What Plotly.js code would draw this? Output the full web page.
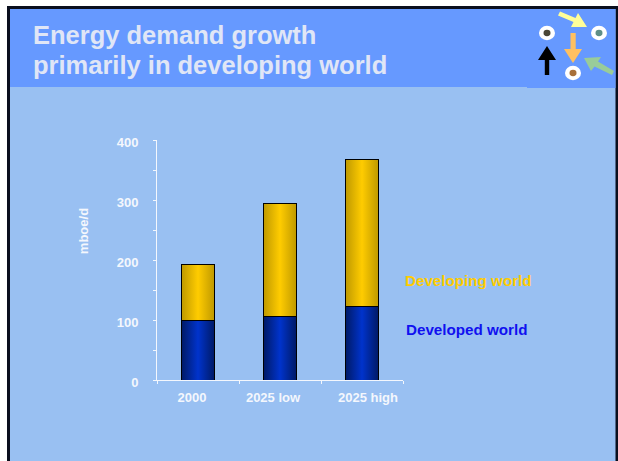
<!DOCTYPE html>
<html>
<head>
<meta charset="utf-8">
<script src="https://cdn.plot.ly/plotly-3.0.1.min.js"></script>
<style>html,body{margin:0;padding:0;background:#fff;overflow:hidden}#chart{width:618px;height:461px}</style>
</head>
<body>
<div id="chart"></div>
<script>
const categories = ['2000', '2025 low', '2025 high'];
const developedWorld = [100, 106, 123];
const developingWorld = [92, 188, 245];
const yTickValues = [0, 100, 200, 300, 400];
const titleLines = ['Energy demand growth', 'primarily in developing world'];
const xLabelOffsets = [-6, -7, 6];

const W = 618, H = 461;
const M = {l: 157, r: 215, t: 140, b: 81};
const PW = W - M.l - M.r, PH = H - M.t - M.b;
const px = x => (x - M.l) / PW;
const py = y => 1 - (y - M.t) / PH;
const paperRect = (x0, y0, x1, y1, color) => ({
  type: 'rect', xref: 'paper', yref: 'paper', layer: 'below',
  x0: px(x0), x1: px(x1), y0: py(y0), y1: py(y1),
  fillcolor: color, line: {width: 0}
});
const poly = (pts, color) => ({
  type: 'path', xref: 'paper', yref: 'paper', layer: 'below',
  path: 'M' + pts.map(p => px(p[0]) + ',' + py(p[1])).join('L') + 'Z',
  fillcolor: color, line: {width: 0}
});
const disc = (cx, cy, r, color) => ({
  type: 'circle', xref: 'paper', yref: 'paper', layer: 'below',
  x0: px(cx - r), x1: px(cx + r), y0: py(cy - r * 0.9), y1: py(cy + r * 0.9),
  fillcolor: color, line: {width: 0}
});

const shapes = [
  paperRect(7, 6, 618, 461, '#0a0f1e'),
  paperRect(10, 9, 615.5, 461, '#99C0F2'),
  paperRect(10, 9, 615.5, 87, '#6699FF'),
  paperRect(527, 87, 615.5, 88, '#6699FF'),
  disc(547, 33, 8, '#ffffff'), disc(547, 33, 3.5, '#4a4636'),
  disc(599, 33, 8, '#ffffff'), disc(599, 33, 3.5, '#5f8f88'),
  disc(573, 73, 8, '#ffffff'), disc(573, 73, 3.5, '#a8703a'),
  poly([[547,46],[556,60],[549.2,60],[549.2,75],[544.8,75],[544.8,60],[538,60]], '#000000'),
  poly([[570.5,33],[575.7,33],[575.7,49],[582,49],[573,63],[564,49],[570.5,49]], '#FFC060'),
  poly([[560,11.5],[575.5,18],[578,13],[587,27],[571,27],[573.5,22],[558,15.5]], '#FFFF99'),
  poly([[614,71],[598,61.5],[601,57],[584,58],[591,71],[594.5,66.5],[612,75]], '#99CC99')
];

const annotations = [
  {text: titleLines[0], x: px(31), y: py(35.5)},
  {text: titleLines[1], x: px(31), y: py(64.5)}
].map(a => Object.assign(a, {
  xref: 'paper', yref: 'paper', xanchor: 'left', yanchor: 'middle', showarrow: false,
  font: {family: 'Liberation Sans', size: 25.5, color: '#E0E6F6', weight: 700}
})).concat([
  {text: 'Developing world', x: px(403), y: py(280), xref: 'paper', yref: 'paper', xanchor: 'left', yanchor: 'middle', showarrow: false,
   font: {family: 'Liberation Sans', size: 15.2, color: '#FFCC00', weight: 700}},
  {text: 'Developed world', x: px(404), y: py(329), xref: 'paper', yref: 'paper', xanchor: 'left', yanchor: 'middle', showarrow: false,
   font: {family: 'Liberation Sans', size: 15.2, color: '#1010F0', weight: 700}}
]);

const tickFont = {family: 'Liberation Sans', size: 13, color: '#F4F7FD', weight: 700};
const traces = [
  {type: 'bar', name: 'Developed world', x: categories, y: developedWorld, width: 0.4,
   marker: {color: '#0033CC', line: {color: '#000000', width: 1}}},
  {type: 'bar', name: 'Developing world', x: categories, y: developingWorld, width: 0.4,
   marker: {color: '#FFCC00', line: {color: '#000000', width: 1}}}
];
const layout = {
  width: W, height: H, margin: M, barmode: 'stack', showlegend: false,
  paper_bgcolor: '#ffffff', plot_bgcolor: 'rgba(0,0,0,0)',
  shapes, annotations,
  xaxis: {type: 'category', categoryorder: 'array', categoryarray: categories,
    tickson: 'boundaries', ticks: 'outside', ticklen: 3, tickwidth: 1, tickcolor: '#F4F7FD',
    showline: true, linecolor: '#F4F7FD', linewidth: 1, showgrid: false, zeroline: false,
    tickfont: tickFont, ticklabelstandoff: 5},
  yaxis: {range: [0, 400], tickmode: 'array', tickvals: yTickValues, ticks: 'outside', ticklen: 3, tickwidth: 1,
    tickcolor: '#F4F7FD', showline: true, linecolor: '#F4F7FD', linewidth: 1, showgrid: false, zeroline: false,
    minor: {dtick: 50, ticks: 'outside', ticklen: 3, tickwidth: 1, tickcolor: '#F4F7FD', showgrid: false},
    tickfont: tickFont, ticklabelstandoff: 12, ticklabelshift: 2,
    title: {text: 'mboe/d', standoff: 25, font: {family: 'Liberation Sans', size: 13, color: '#F4F7FD', weight: 700}}}
};

Plotly.newPlot('chart', traces, layout, {displayModeBar: false, staticPlot: true}).then(() => {
  const svg = document.querySelector('#chart svg.main-svg');
  const ns = 'http://www.w3.org/2000/svg';
  const defs = svg.querySelector('defs');
  const mk = (id, edge, mid) => {
    const g = document.createElementNS(ns, 'linearGradient');
    g.setAttribute('id', id);
    [[0, edge], [0.5, mid], [1, edge]].forEach(([o, c]) => {
      const s = document.createElementNS(ns, 'stop');
      s.setAttribute('offset', o); s.setAttribute('stop-color', c);
      g.appendChild(s);
    });
    defs.appendChild(g);
  };
  mk('gradBlue', '#001A66', '#0033CC');
  mk('gradGold', '#BF9900', '#FFCC00');
  document.querySelectorAll('#chart .trace.bars').forEach((t, i) => {
    t.querySelectorAll('.point path').forEach(p => {
      p.style.fill = 'url(#' + (i === 0 ? 'gradBlue' : 'gradGold') + ')';
    });
  });
  document.querySelectorAll('#chart .xtick text').forEach((t, i) => {
    t.setAttribute('x', parseFloat(t.getAttribute('x')) + xLabelOffsets[i]);
  });
  const yt = document.querySelector('#chart .ytitle');
  if (yt) {
    const x = parseFloat(yt.getAttribute('x'));
    const y = parseFloat(yt.getAttribute('y')) - 29;
    yt.setAttribute('y', y);
    yt.setAttribute('transform', 'rotate(-90,' + x + ',' + y + ')');
  }
});
</script>
</body>
</html>
